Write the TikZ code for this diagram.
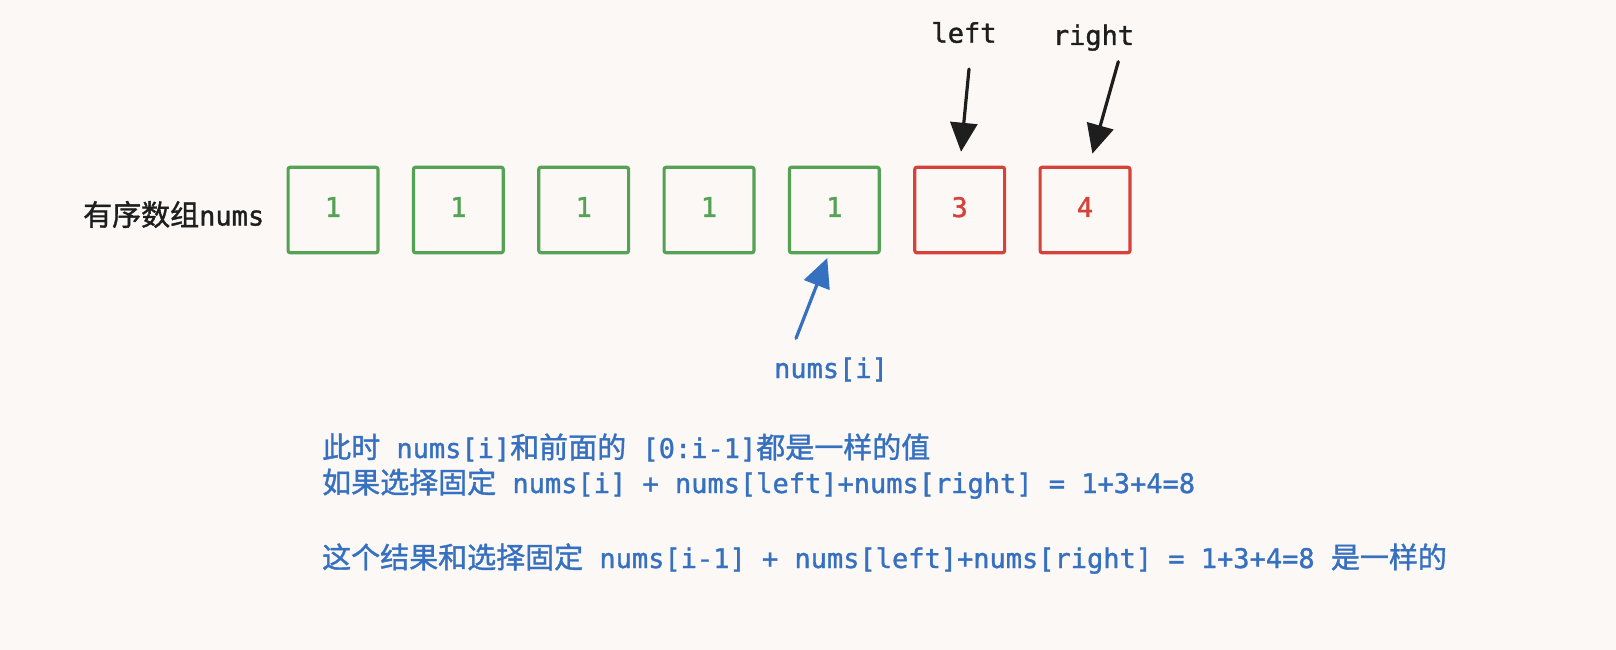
\documentclass[tikz,border=0pt]{standalone}
\usepackage{fontspec}
\setmonofont[FakeBold=1.3]{DejaVu Sans Mono}
\newfontfamily\cjk[Scale=1.074,FakeBold=1.3]{Noto Sans CJK SC}
\usetikzlibrary{arrows.meta,calc}
\newcommand\zh[1]{{\cjk #1}}

\definecolor{paper}{HTML}{FBF8F5}
\definecolor{ink}{HTML}{1E1E1E}
\definecolor{cellgreen}{HTML}{54A254}
\definecolor{cellred}{HTML}{D6413A}
\definecolor{noteblue}{HTML}{3670C0}

\begin{document}
\begin{tikzpicture}[x=1pt,y=-1pt,
  every node/.style={font=\ttfamily\fontsize{27}{35}\selectfont, inner sep=0pt},
  cell/.style={draw, line width=3.2pt, rounded corners=2pt,
               minimum width=89.8pt, minimum height=85.4pt, text depth=6pt},
  same/.style={cell, draw=cellgreen, text=cellgreen},
  fixed/.style={cell, draw=cellred, text=cellred},
  pointer/.style={line width=3.2pt, line cap=round,
                  -{Triangle[length=29pt,width=27pt]}},
  note/.style={anchor=base west, text=noteblue}]

  % canvas
  \fill[paper] (0,0) rectangle (1616,650);
  \useasboundingbox (0,0) rectangle (1616,650);

  % array label
  \node[anchor=base west, text=ink] (arr) at (83,225.5) {\zh{有序数组}nums};

  % array cells
  \node[same]  (c1) at (333.0,210) {1};
  \node[same]  (c2) at (458.3,210) {1};
  \node[same]  (c3) at (583.7,210) {1};
  \node[same]  (c4) at (709.0,210) {1};
  \node[same]  (c5) at (834.3,210) {1};
  \node[fixed] (c6) at (959.7,210) {3};
  \node[fixed] (c7) at (1085.0,210) {4};

  % pointer labels
  \node[anchor=base, text=ink] (lft) at (964,42.7) {left};
  \node[anchor=base, text=ink] (rgt) at (1093.5,45) {right};
  \node[anchor=base, text=noteblue] (cur) at (831,378) {nums[i]};

  % pointer tails
  \coordinate (lfttail) at (969,69);
  \coordinate (rgttail) at (1118.3,61.7);
  \coordinate (curtail) at (796,338.3);

  % pointers
  \draw[pointer, draw=ink, fill=ink, shorten >=14pt] (lfttail) -- (c6.north);
  \draw[pointer, draw=ink, fill=ink, shorten >=12.5pt] (rgttail) -- ($(c7.north)+(4,0)$);
  \draw[pointer, draw=noteblue, fill=noteblue, shorten >=4pt] (curtail) -- ($(c5.south)+(-5.6,0)$);

  % explanation
  \node[note] (n1) at (322,458) {\zh{此时} nums[i]\zh{和前面的} [0:i-1]\zh{都是一样的值}};
  \node[note] (n2) at (322,493) {\zh{如果选择固定} nums[i] + nums[left]+nums[right] = 1+3+4=8};
  \node[note] (n3) at (322,568) {\zh{这个结果和选择固定} nums[i-1] + nums[left]+nums[right] = 1+3+4=8 \zh{是一样的}};
\end{tikzpicture}
\end{document}
